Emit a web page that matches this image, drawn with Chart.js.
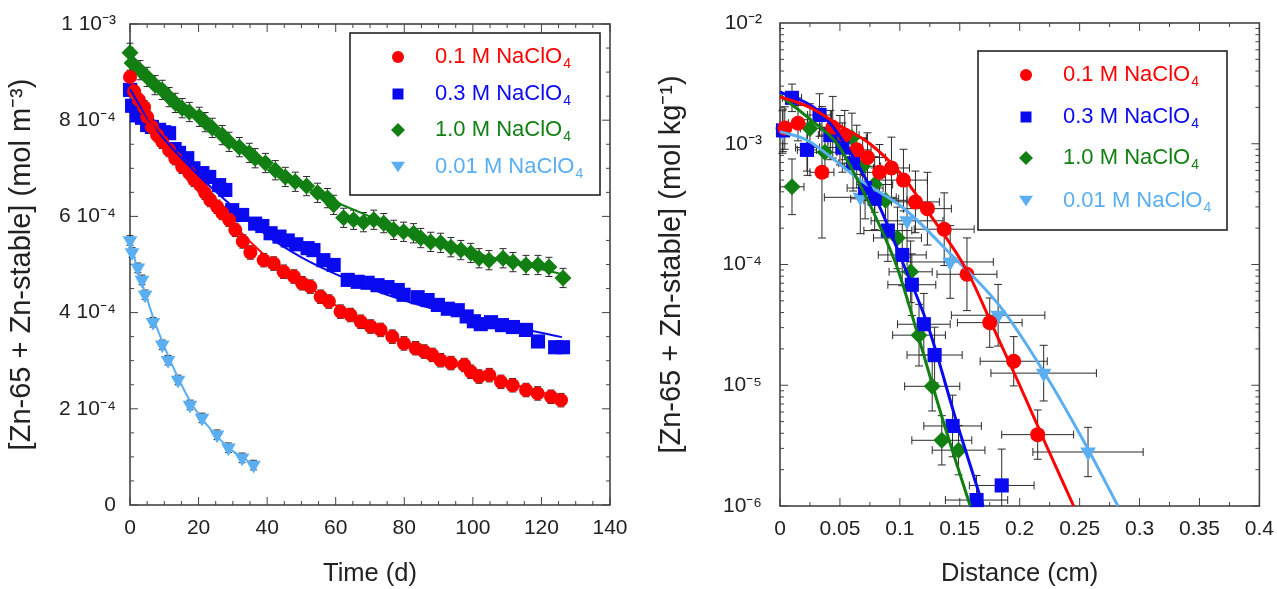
<!DOCTYPE html>
<html>
<head>
<meta charset="utf-8">
<script src="https://cdn.jsdelivr.net/npm/chart.js@4.4.1/dist/chart.umd.min.js"></script>
<style>
  body { margin: 0; background: #fff; width: 1277px; height: 589px; overflow: hidden; position: relative; }
  canvas { position: absolute; top: 0; }
  #timeChart { left: 0; }
  #distChart { left: 640px; }
</style>
</head>
<body>
<canvas id="timeChart" width="640" height="589"></canvas>
<canvas id="distChart" width="637" height="589"></canvas>
<script>
// ---- left panel: concentration vs time (values in 1e-4 mol m-3) ----
const redT = [0, 1.2, 2.6, 4.1, 5, 6.4, 7.9, 9.4, 11.4, 13.2, 15.2, 17.3, 18.7, 20.5, 21.9, 23.4, 25.4, 26.9, 28.9, 30.7, 32.9, 35.1, 39, 41.9, 44.8, 47.8, 50.2, 52.6, 55.6, 58, 61.4, 64.3, 67.3, 70.2, 73.1, 76.5, 79.9, 83.3, 85.8, 88.2, 90.6, 93.6, 97.5, 99.4, 101.8, 104.8, 108.2, 111.6, 115.5, 118.9, 122.8, 125.7];
const redC = [8.9, 8.6, 8.42, 8.27, 8.07, 7.86, 7.69, 7.55, 7.38, 7.21, 7.03, 6.9, 6.76, 6.65, 6.49, 6.34, 6.2, 6.07, 5.93, 5.72, 5.48, 5.25, 5.09, 5.02, 4.85, 4.75, 4.61, 4.54, 4.33, 4.23, 4.02, 3.95, 3.81, 3.71, 3.64, 3.5, 3.36, 3.26, 3.19, 3.12, 3.01, 2.95, 2.91, 2.77, 2.67, 2.7, 2.56, 2.49, 2.39, 2.32, 2.25, 2.18];
const blueT = [0, 0.6, 2, 3.5, 5, 6.4, 8.5, 10, 11.4, 13, 14.3, 16.7, 18.5, 21.1, 23.1, 26, 27.8, 29.8, 32.7, 36.5, 38.6, 41, 43.6, 46, 48.5, 51.8, 53.5, 56.4, 59.4, 63.5, 66.4, 69.3, 72.2, 75.1, 78.1, 79.8, 83.9, 86.8, 89.8, 92.7, 95.6, 98.2, 100.3, 102.3, 105.3, 108.5, 111.7, 115.5, 119, 124, 126.3];
const blueC = [8.63, 8.3, 8.1, 8.05, 7.9, 7.86, 7.8, 7.75, 7.73, 7.4, 7.32, 7.21, 7.0, 6.9, 6.82, 6.65, 6.55, 6.13, 6.03, 5.85, 5.8, 5.65, 5.58, 5.5, 5.42, 5.34, 5.3, 5.09, 4.99, 4.68, 4.64, 4.62, 4.57, 4.53, 4.47, 4.37, 4.32, 4.26, 4.16, 4.08, 4.05, 3.92, 3.82, 3.76, 3.8, 3.74, 3.7, 3.64, 3.4, 3.28, 3.28];
const greenT = [0, 0.6, 2.9, 5, 7.3, 9.4, 11.4, 13.2, 15.2, 17.3, 20.2, 21.9, 24, 26.9, 28.9, 31.9, 34.8, 36.5, 39.5, 42.4, 45.3, 48.2, 51.5, 54.7, 57.6, 59.4, 62.3, 65.2, 68.1, 71.1, 74, 76.9, 79.8, 82.7, 84.8, 87.7, 90.6, 93.6, 96.5, 99.4, 101.8, 104.7, 108.8, 111.7, 115.5, 119, 122.2, 126.3];
const greenC = [9.4, 9.19, 9.04, 8.9, 8.73, 8.63, 8.48, 8.36, 8.25, 8.17, 8.07, 7.96, 7.84, 7.69, 7.55, 7.44, 7.32, 7.21, 7.11, 6.96, 6.82, 6.72, 6.63, 6.49, 6.38, 6.24, 5.97, 5.93, 5.88, 5.93, 5.86, 5.72, 5.68, 5.65, 5.55, 5.47, 5.45, 5.36, 5.3, 5.24, 5.13, 5.09, 5.13, 5.05, 4.99, 4.99, 4.95, 4.72];
const ltT = [0, 0.6, 2.3, 3.5, 4.4, 6.7, 9.4, 11.1, 14, 17.5, 21, 25.4, 28.7, 32.7, 36];
const ltC = [5.5, 5.25, 4.93, 4.68, 4.37, 3.8, 3.33, 3.01, 2.6, 2.08, 1.81, 1.46, 1.19, 0.98, 0.83];
// half-height of the error bars per series (same unit)
const timeErr = [0.14, 0.12, 0.2, 0.1];

// fitted curves, left panel
const fitT = [0, 5, 10, 20, 30, 40, 50, 60, 70, 80, 90, 100, 110, 120, 126];
const redFit = [8.85, 8.1, 7.5, 6.7, 5.85, 5.15, 4.65, 4.15, 3.75, 3.38, 3.05, 2.78, 2.55, 2.34, 2.22];
const blueFit = [8.65, 8.05, 7.6, 6.85, 6.2, 5.6, 5.15, 4.8, 4.5, 4.25, 4.05, 3.88, 3.72, 3.58, 3.49];
const greenFit = [9.3, 8.9, 8.6, 8.05, 7.5, 7.05, 6.65, 6.3, 6.0, 5.72, 5.47, 5.25, 5.07, 4.9, 4.8];
const ltFitT = [0, 2, 4, 7, 10, 14, 18, 22, 26, 30, 36];
const ltFit = [5.5, 4.95, 4.5, 3.85, 3.3, 2.65, 2.1, 1.7, 1.38, 1.12, 0.85];

// ---- right panel: concentration profile vs distance (mol kg-1) ----
const redD = [0.004, 0.015, 0.035, 0.044, 0.054, 0.064, 0.073, 0.083, 0.093, 0.103, 0.113, 0.123, 0.137, 0.156, 0.175, 0.195, 0.215];
const redV = [1.35e-3, 1.48e-3, 5.8e-4, 1.37e-3, 1.18e-3, 8.9e-4, 7.7e-4, 5.8e-4, 6.3e-4, 5.0e-4, 3.3e-4, 2.9e-4, 1.96e-4, 8.3e-5, 3.3e-5, 1.58e-5, 3.9e-6];
const redDx = [0.005, 0.008, 0.01, 0.01, 0.012, 0.012, 0.015, 0.015, 0.015, 0.02, 0.02, 0.02, 0.025, 0.025, 0.027, 0.028, 0.03];
const redFy = [1.5, 1.4, 3.5, 1.8, 1.6, 1.6, 1.6, 1.7, 1.8, 1.8, 1.8, 2, 2, 2, 1.6, 1.6, 1.6];
const blueD = [0.0025, 0.01, 0.0225, 0.033, 0.042, 0.052, 0.061, 0.071, 0.079, 0.09, 0.102, 0.11, 0.12, 0.129, 0.144, 0.164, 0.185];
const blueV = [1.29e-3, 2.4e-3, 8.9e-4, 1.73e-3, 1.18e-3, 9.3e-4, 6.9e-4, 4.3e-4, 3.5e-4, 1.91e-4, 1.2e-4, 6.8e-5, 3.2e-5, 1.78e-5, 4.6e-6, 1.12e-6, 1.48e-6];
const blueDx = [0.004, 0.008, 0.008, 0.01, 0.01, 0.012, 0.012, 0.015, 0.02, 0.02, 0.02, 0.02, 0.022, 0.023, 0.024, 0.026, 0.027];
const blueFy = [1.5, 1.3, 1.5, 1.5, 1.6, 1.6, 1.7, 1.8, 1.8, 1.8, 1.8, 1.8, 1.8, 1.7, 1.8, 1.6, 2];
const greenD = [0.01, 0.025, 0.0375, 0.05, 0.06, 0.069, 0.079, 0.088, 0.098, 0.109, 0.116, 0.127, 0.135, 0.149];
const greenV = [4.4e-4, 1.34e-3, 8.5e-4, 1.07e-3, 1.12e-3, 6.5e-4, 4.6e-4, 3.4e-4, 1.66e-4, 8.7e-5, 2.6e-5, 9.8e-6, 3.5e-6, 2.9e-6];
const greenDx = [0.01, 0.008, 0.01, 0.01, 0.012, 0.015, 0.015, 0.018, 0.02, 0.018, 0.022, 0.023, 0.025, 0.022];
const greenFy = [1.7, 1.6, 1.6, 1.6, 1.6, 1.7, 1.7, 1.8, 1.8, 1.8, 1.8, 1.6, 1.6, 1.6];
const ltD = [0.002, 0.023, 0.067, 0.106, 0.142, 0.182, 0.22, 0.257];
const ltV = [1.25e-3, 9.3e-4, 3.6e-4, 2.3e-4, 1.05e-4, 3.8e-5, 1.26e-5, 2.8e-6];
const ltDx = [0.004, 0.01, 0.03, 0.03, 0.036, 0.039, 0.044, 0.046];
const ltFy = [1.5, 1.7, 2, 2, 2, 1.8, 1.7, 1.6];

// fitted curves, right panel
const redFitD = [0, 0.025, 0.05, 0.075, 0.1, 0.125, 0.156, 0.178, 0.2, 0.222, 0.245];
const redFitV = [2.45e-3, 2.0e-3, 1.41e-3, 1.0e-3, 5.75e-4, 2.6e-4, 8.9e-5, 3.0e-5, 1.0e-5, 3.2e-6, 1.0e-6];
const blueFitD = [0, 0.0334, 0.061, 0.0835, 0.1027, 0.1228, 0.1478, 0.1695];
const blueFitV = [2.69e-3, 1.82e-3, 7.8e-4, 2.95e-4, 1.02e-4, 3.24e-5, 4.8e-6, 1.0e-6];
const greenFitD = [0, 0.025, 0.0476, 0.0668, 0.086, 0.0977, 0.117, 0.136, 0.1587];
const greenFitV = [2.51e-3, 1.6e-3, 1.0e-3, 4.57e-4, 1.82e-4, 9.5e-5, 2.24e-5, 5.1e-6, 1.0e-6];
const ltFitD = [0, 0.0225, 0.0668, 0.1027, 0.142, 0.1836, 0.2195, 0.253, 0.282];
const ltFitV = [1.26e-3, 1.07e-3, 5.0e-4, 2.95e-4, 1.23e-4, 4.5e-5, 1.32e-5, 3.5e-6, 1.0e-6];

const seriesNames = ['0.1 M NaClO', '0.3 M NaClO', '1.0 M NaClO', '0.01 M NaClO'];
const colors = ['#ff0000', '#0a0af0', '#127f12', '#5aaef2'];
const styles = ['circle', 'rect', 'rectRot', 'triangle'];

const FONT = "'Liberation Sans', Arial, Helvetica, sans-serif";
Chart.defaults.font.family = FONT;
Chart.defaults.color = '#222';

const sup = s => String(s).replace(/./g, c => ({'-': '\u207B', '1': '\u00B9', '2': '\u00B2', '3': '\u00B3', '4': '\u2074', '5': '\u2075', '6': '\u2076'}[c] || c));

function points(xs, ys) { return xs.map((x, i) => ({x: x, y: ys[i]})); }

function marker(ctx, style, x, y, r) {
  ctx.beginPath();
  if (style === 'circle') ctx.arc(x, y, r, 0, Math.PI * 2);
  else if (style === 'rect') ctx.rect(x - r, y - r, 2 * r, 2 * r);
  else if (style === 'rectRot') { ctx.moveTo(x, y - r); ctx.lineTo(x + r, y); ctx.lineTo(x, y + r); ctx.lineTo(x - r, y); ctx.closePath(); }
  else { ctx.moveTo(x - r, y - r * 0.75); ctx.lineTo(x + r, y - r * 0.75); ctx.lineTo(x, y + r * 0.75); ctx.closePath(); }
  ctx.fill();
}

// frame + inward tick marks on all four sides
const frameTicks = {
  id: 'frameTicks',
  beforeDatasetsDraw(chart, args, o) {
    const {ctx, chartArea: a, scales} = chart;
    ctx.save();
    ctx.strokeStyle = '#444';
    ctx.lineWidth = 1;
    ctx.beginPath();
    o.xTicks.forEach(([v, len]) => {
      const px = scales.x.getPixelForValue(v);
      ctx.moveTo(px, a.bottom); ctx.lineTo(px, a.bottom - len);
      ctx.moveTo(px, a.top); ctx.lineTo(px, a.top + len);
    });
    o.yTicks.forEach(([v, len]) => {
      const py = scales.y.getPixelForValue(v);
      ctx.moveTo(a.left, py); ctx.lineTo(a.left + len, py);
      ctx.moveTo(a.right, py); ctx.lineTo(a.right - len, py);
    });
    ctx.stroke();
    ctx.lineWidth = 1.6;
    ctx.strokeRect(a.left, a.top, a.width, a.height);
    ctx.restore();
  }
};

// error bars stored on the dataset as err[i] = {xMin, xMax, yMin, yMax}
const errorBars = {
  id: 'errorBars',
  beforeDatasetsDraw(chart, args, o) {
    const {ctx, chartArea: a, scales: {x, y}} = chart;
    const cap = o.cap || 3;
    ctx.save();
    ctx.beginPath();
    ctx.rect(a.left - 8, a.top, a.width + 8, a.height);
    ctx.clip();
    ctx.strokeStyle = '#2a2a2a';
    ctx.lineWidth = 1;
    chart.data.datasets.forEach(ds => {
      if (!ds.err) return;
      ctx.beginPath();
      ds.data.forEach((p, i) => {
        const e = ds.err[i];
        const px = x.getPixelForValue(p.x), py = y.getPixelForValue(p.y);
        if (e.yMin !== undefined) {
          const y0 = y.getPixelForValue(e.yMin), y1 = y.getPixelForValue(e.yMax);
          ctx.moveTo(px, y0); ctx.lineTo(px, y1);
          ctx.moveTo(px - cap, y0); ctx.lineTo(px + cap, y0);
          ctx.moveTo(px - cap, y1); ctx.lineTo(px + cap, y1);
        }
        if (e.xMin !== undefined) {
          const x0 = x.getPixelForValue(e.xMin), x1 = x.getPixelForValue(e.xMax);
          ctx.moveTo(x0, py); ctx.lineTo(x1, py);
          ctx.moveTo(x0, py - cap); ctx.lineTo(x0, py + cap);
          ctx.moveTo(x1, py - cap); ctx.lineTo(x1, py + cap);
        }
      });
      ctx.stroke();
    });
    ctx.restore();
  }
};

// boxed legend with subscript 4
const boxLegend = {
  id: 'boxLegend',
  afterDraw(chart, args, o) {
    const ctx = chart.ctx;
    ctx.save();
    ctx.strokeStyle = '#222';
    ctx.lineWidth = 1.6;
    ctx.strokeRect(o.x, o.y, o.w, o.h);
    seriesNames.forEach((name, i) => {
      const yy = o.y + o.rows[i];
      ctx.fillStyle = colors[i];
      marker(ctx, styles[i], o.x + o.markX, yy, o.markR[i]);
      ctx.font = o.size + 'px ' + FONT;
      ctx.textBaseline = 'middle';
      ctx.textAlign = 'left';
      ctx.fillText(name, o.x + o.textX, yy);
      const wd = ctx.measureText(name).width;
      ctx.font = Math.round(o.size * 0.62) + 'px ' + FONT;
      ctx.fillText('4', o.x + o.textX + wd + 1, yy + o.size * 0.34);
    });
    ctx.restore();
  }
};

function markerSet(xs, ys, i, r, err) {
  return {
    data: points(xs, ys), err: err,
    pointStyle: styles[i], pointRotation: i === 3 ? 180 : 0,
    pointRadius: r, pointHoverRadius: r,
    backgroundColor: colors[i], borderColor: colors[i], pointBorderWidth: 0,
    showLine: false, clip: false, order: 1
  };
}
function curveSet(xs, ys, i, w) {
  return {
    data: points(xs, ys), showLine: true, pointRadius: 0, borderColor: colors[i],
    borderWidth: w, cubicInterpolationMode: 'monotone', clip: false, order: 0
  };
}

const tickFont = {size: 21};
const xTitleFont = {size: 25.5};
const yTitleFont = {size: 29};

// ----- left chart -----
const timeSets = [[redT, redC], [blueT, blueC], [greenT, greenC], [ltT, ltC]];
const timeMarkers = timeSets.map(([t, c], i) =>
  markerSet(t, c, i, [7, 10, 8.5, 8.5][i], c.map(v => ({yMin: v - timeErr[i], yMax: v + timeErr[i]}))));
const timeCurves = [curveSet(fitT, redFit, 0, 2), curveSet(fitT, blueFit, 1, 2), curveSet(fitT, greenFit, 2, 2), curveSet(ltFitT, ltFit, 3, 2)];

const timeXTicks = [], timeYTicks = [];
for (let i = 0; i <= 28; i++) timeXTicks.push([i * 5, i % 4 === 0 ? 8 : 4]);
for (let i = 0; i <= 20; i++) timeYTicks.push([i * 0.5, i % 4 === 0 ? 8 : 4]);

new Chart(document.getElementById('timeChart'), {
  type: 'scatter',
  data: {datasets: [...timeCurves, ...timeMarkers]},
  plugins: [frameTicks, errorBars, boxLegend],
  options: {
    responsive: false, animation: false, devicePixelRatio: 1,
    layout: {padding: {top: 24, right: 30, bottom: 0, left: 0}},
    plugins: {
      legend: {display: false}, tooltip: {enabled: false},
      frameTicks: {xTicks: timeXTicks, yTicks: timeYTicks},
      errorBars: {cap: 3.5},
      boxLegend: {x: 350, y: 33, w: 250, h: 162, rows: [24, 61, 97, 134], markX: 48, textX: 85, size: 22, markR: [6, 5.5, 7, 7]}
    },
    scales: {
      x: {
        type: 'linear', min: 0, max: 140,
        ticks: {stepSize: 20, font: tickFont, padding: 3, maxRotation: 0, autoSkip: false},
        grid: {display: false}, border: {display: false},
        title: {display: true, text: 'Time (d)', font: xTitleFont, padding: {top: 0, bottom: 0}},
        afterFit: s => { s.height = 84; }
      },
      y: {
        type: 'linear', min: 0, max: 10,
        ticks: {stepSize: 2, font: tickFont, padding: 6, autoSkip: false,
          callback: v => v === 0 ? '0' : v === 10 ? '1 10' + sup(-3) : v + ' 10' + sup(-4)},
        grid: {display: false}, border: {display: false},
        title: {display: true, text: '[Zn-65 + Zn-stable] (mol m' + sup(-3) + ')', font: yTitleFont, padding: {top: 5}},
        afterFit: s => { s.width = 130; }
      }
    }
  }
});

// ----- right chart -----
function profileErr(d, v, dx, fy) {
  return d.map((x, i) => ({xMin: x - dx[i], xMax: x + dx[i], yMin: v[i] / fy[i], yMax: v[i] * fy[i]}));
}
const distMarkers = [
  markerSet(redD, redV, 0, 7.5, profileErr(redD, redV, redDx, redFy)),
  markerSet(blueD, blueV, 1, 10, profileErr(blueD, blueV, blueDx, blueFy)),
  markerSet(greenD, greenV, 2, 8.5, profileErr(greenD, greenV, greenDx, greenFy)),
  markerSet(ltD, ltV, 3, 9, profileErr(ltD, ltV, ltDx, ltFy))
];
const distCurves = [curveSet(redFitD, redFitV, 0, 3), curveSet(blueFitD, blueFitV, 1, 3), curveSet(greenFitD, greenFitV, 2, 3), curveSet(ltFitD, ltFitV, 3, 3)];

const distXTicks = [], distYTicks = [];
for (let i = 0; i <= 16; i++) distXTicks.push([i * 0.025, i % 2 === 0 ? 8 : 4]);
for (let e = -6; e < -2; e++) for (let m = 1; m <= 9; m++) distYTicks.push([m * Math.pow(10, e), m === 1 ? 8 : 4]);

new Chart(document.getElementById('distChart'), {
  type: 'scatter',
  data: {datasets: [...distCurves, ...distMarkers]},
  plugins: [frameTicks, errorBars, boxLegend],
  options: {
    responsive: false, animation: false, devicePixelRatio: 1,
    layout: {padding: {top: 23, right: 17, bottom: 0, left: 0}},
    plugins: {
      legend: {display: false}, tooltip: {enabled: false},
      frameTicks: {xTicks: distXTicks, yTicks: distYTicks},
      errorBars: {cap: 4},
      boxLegend: {x: 338, y: 51, w: 249, h: 179, rows: [24, 66, 107, 150], markX: 48, textX: 85, size: 22, markR: [6, 5.5, 7, 7]}
    },
    scales: {
      x: {
        type: 'linear', min: 0, max: 0.4,
        ticks: {stepSize: 0.05, font: tickFont, padding: 3, maxRotation: 0, autoSkip: false,
          callback: v => String(Number(v.toFixed(2)))},
        grid: {display: false}, border: {display: false},
        title: {display: true, text: 'Distance (cm)', font: xTitleFont, padding: {top: 0, bottom: 0}},
        afterFit: s => { s.height = 83; }
      },
      y: {
        type: 'logarithmic', min: 1e-6, max: 1e-2,
        afterBuildTicks: s => { s.ticks = [1e-6, 1e-5, 1e-4, 1e-3, 1e-2].map(v => ({value: v})); },
        ticks: {font: tickFont, padding: 10, autoSkip: false,
          callback: v => '10' + sup(Math.round(Math.log10(v)))},
        grid: {display: false}, border: {display: false},
        title: {display: true, text: '[Zn-65 + Zn-stable] (mol kg' + sup(-1) + ')', font: yTitleFont, padding: {top: 15}},
        afterFit: s => { s.width = 140; }
      }
    }
  }
});
</script>
</body>
</html>
